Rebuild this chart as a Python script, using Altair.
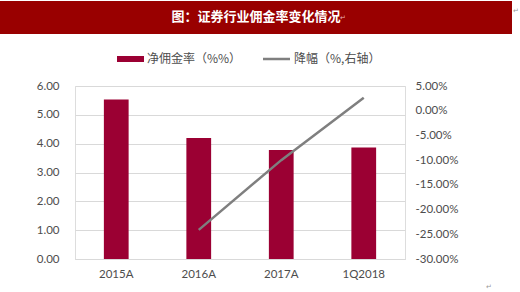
import altair as alt
import pandas as pd

categories = ["2015A", "2016A", "2017A", "1Q2018"]
commission_rate = [5.53, 4.20, 3.78, 3.87]
decline = [None, -0.241, -0.100, 0.026]

title_text = "图：证券行业佣金率变化情况"
legend_bar = "净佣金率（%%）"
legend_line = "降幅（%,右轴）"
left_ticks = [0, 1, 2, 3, 4, 5, 6]
right_ticks = [-0.30, -0.25, -0.20, -0.15, -0.10, -0.05, 0.0, 0.05]

BAR = "#9B0033"
LINE = "#7F7F7F"
BANNER = "#990000"
TXT = "#4D4D4D"
NUMFONT = "Lato"
CJK = "Noto Sans CJK SC"

df = pd.DataFrame({"cat": categories, "rate": commission_rate, "dec": decline})
line_df = df.dropna()

x = alt.X("cat:N", sort=categories, title=None,
          scale=alt.Scale(paddingInner=0.7, paddingOuter=0.35),
          axis=alt.Axis(labelAngle=0, ticks=False, domain=True, domainColor="#D9D9D9",
                        labelFont=NUMFONT, labelFontSize=11.5, labelColor=TXT, labelPadding=9))

bars = alt.Chart(df).mark_bar(color=BAR).encode(
    x=x,
    y=alt.Y("rate:Q", title=None, scale=alt.Scale(domain=[0, 6], nice=False),
            axis=alt.Axis(values=left_ticks, format=".2f", ticks=False, domain=False,
                          grid=True, gridColor="#D9D9D9", labelFont=NUMFONT, labelFontSize=11.5,
                          labelColor=TXT, labelPadding=16)),
)

line = alt.Chart(line_df).mark_line(color=LINE, strokeWidth=2.5).encode(
    x=alt.X("cat:N", sort=categories),
    y=alt.Y("dec:Q", title=None, scale=alt.Scale(domain=[-0.30, 0.05], nice=False, zero=False),
            axis=alt.Axis(orient="right", values=right_ticks, ticks=False, domain=False, grid=False,
                          labelExpr="replace(format(datum.value, '.2%'), '\u2212', '-')",
                          labelFont=NUMFONT, labelFontSize=11.5, labelColor=TXT, labelPadding=10)),
)

one = pd.DataFrame({"k": [0]})
banner = alt.Chart(one).mark_rect(color=BANNER).encode(
    x=alt.value(-75), x2=alt.value(437), y=alt.value(-85), y2=alt.value(-52))
title = alt.Chart(one).mark_text(text=title_text, color="white", font=CJK, fontSize=13,
                                 fontWeight="bold", align="center", baseline="middle").encode(
    x=alt.value(181), y=alt.value(-69))
mark1 = alt.Chart(one).mark_text(text="↵", color="#E8B0B0", font="DejaVu Sans", fontSize=7,
                                 align="left", baseline="middle").encode(
    x=alt.value(265), y=alt.value(-68))
mark2 = alt.Chart(one).mark_text(text="↵", color="#999999", font="DejaVu Sans", fontSize=7,
                                 align="left", baseline="middle").encode(
    x=alt.value(438), y=alt.value(-75))
mark3 = alt.Chart(one).mark_text(text="↵", color="#999999", font="DejaVu Sans", fontSize=7,
                                 align="left", baseline="middle").encode(
    x=alt.value(411), y=alt.value(201))
leg_rect = alt.Chart(one).mark_rect(color=BAR).encode(
    x=alt.value(42), x2=alt.value(69), y=alt.value(-30), y2=alt.value(-24))
leg_t1 = alt.Chart(one).mark_text(text=legend_bar, color=TXT, font=CJK, fontSize=12,
                                  align="left", baseline="middle").encode(
    x=alt.value(72), y=alt.value(-27))
leg_rule = alt.Chart(one).mark_rule(color=LINE, strokeWidth=2.5).encode(
    x=alt.value(188), x2=alt.value(215), y=alt.value(-27))
leg_t2 = alt.Chart(one).mark_text(text=legend_line, color=TXT, font=CJK, fontSize=12,
                                  align="left", baseline="middle").encode(
    x=alt.value(219), y=alt.value(-27))

main = alt.layer(bars, line).resolve_scale(y="independent")

chart = alt.layer(main, banner, title, mark1, mark2, mark3, leg_rect, leg_t1, leg_rule, leg_t2).properties(
    width=330, height=173,
    autosize=alt.AutoSizeParams(type="none"),
    padding={"left": 75, "top": 86, "right": 115, "bottom": 33},
).configure_view(stroke=None).configure(background="white")

chart.save("out.html", embed_options={"renderer": "svg", "actions": False})
